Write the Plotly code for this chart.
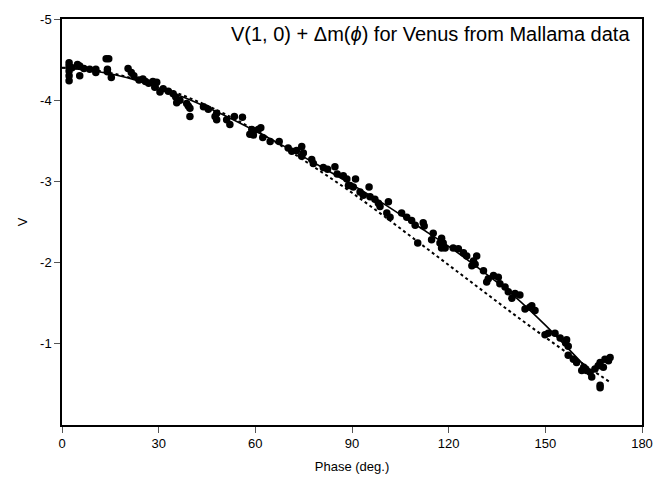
import plotly.graph_objects as go

# observed data (phase in degrees, V magnitude)
obs_phase = [2.2, 2.2, 2.2, 2.2, 2.2, 3.1, 4.8, 5.5, 5.5, 6.8, 8.6, 10.5, 10.5, 13.7, 14.5, 14.1, 14.1, 15.3,
             20.5, 21.5, 22.3, 23.9, 25.1, 25.9, 26.9, 28.2, 28.8,
             29.4, 30.4, 31.4, 33.0, 34.5, 35.3, 35.6, 36.6, 38.7, 39.2, 39.7, 39.7, 43.9, 45.4, 47.5, 48.0, 48.0,
             51.1, 52.1, 53.5, 56.0, 58.3, 59.4,
             58.9, 59.4, 60.9, 61.7, 62.3, 64.6, 67.4, 70.2, 71.3, 72.8, 74.4, 74.4, 74.9, 77.5, 78.0, 81.1, 82.4,
             84.7, 85.4, 87.3, 88.4, 88.9,
             89.4, 91.1, 90.4, 92.5, 93.5, 95.3, 95.6, 97.1, 98.2, 98.7, 100.8, 101.3, 101.8, 105.4, 107.0, 108.5,
             109.6, 112.1, 112.4, 110.4, 115.2, 114.7, 117.3, 117.8,
             117.8, 118.3, 118.9, 121.4, 123.0, 124.6, 125.6, 127.7, 128.7, 128.2, 127.2, 130.8, 132.3, 131.8,
             133.9, 135.4, 135.9, 137.5, 138.5, 139.6, 140.6, 142.1, 143.7, 145.2, 146.8,
             145.8, 149.9, 150.9, 153.0, 154.6, 156.6, 157.1, 156.3, 157.1, 158.7, 159.7, 161.3, 162.8, 163.9,
             164.4, 165.4, 166.4, 167.0, 167.0, 167.0, 168.5, 169.6, 170.1, 168.0, 161.9]
obs_v = [-4.46, -4.42, -4.36, -4.30, -4.24, -4.40, -4.44, -4.42, -4.30, -4.39, -4.38, -4.38, -4.34, -4.51, -4.51, -4.38, -4.35, -4.28,
         -4.39, -4.34, -4.30, -4.25, -4.26, -4.23, -4.21, -4.23, -4.16,
         -4.22, -4.10, -4.14, -4.11, -4.08, -4.04, -3.97, -4.00, -3.96, -3.93, -3.90, -3.80, -3.92, -3.89, -3.80, -3.76, -3.84,
         -3.76, -3.70, -3.80, -3.79, -3.58, -3.62,
         -3.64, -3.57, -3.64, -3.66, -3.54, -3.49, -3.49, -3.41, -3.37, -3.38, -3.43, -3.31, -3.35, -3.27, -3.22, -3.17, -3.15,
         -3.18, -3.09, -3.07, -3.03, -2.95,
         -2.95, -3.03, -2.93, -2.87, -2.83, -2.93, -2.81, -2.78, -2.73, -2.69, -2.61, -2.75, -2.56, -2.61, -2.56, -2.52,
         -2.46, -2.49, -2.45, -2.24, -2.36, -2.28, -2.24, -2.18,
         -2.30, -2.24, -2.18, -2.18, -2.17, -2.12, -2.08, -2.02, -2.08, -1.98, -1.96, -1.90, -1.80, -1.76,
         -1.84, -1.82, -1.74, -1.70, -1.64, -1.56, -1.62, -1.60, -1.43, -1.45, -1.41,
         -1.47, -1.11, -1.13, -1.13, -1.07, -1.05, -0.97, -1.01, -0.86, -0.81, -0.77, -0.67, -0.67, -0.65,
         -0.59, -0.69, -0.73, -0.77, -0.46, -0.49, -0.81, -0.79, -0.83, -0.71, -0.71]

# fitted curve (solid)
fit_phase = [0, 10, 20, 30, 40, 50, 60, 70, 80, 90, 100, 110, 120, 130, 140, 150, 160, 163]
fit_v = [-4.40, -4.36, -4.28, -4.15, -4.00, -3.82, -3.62, -3.41, -3.19, -2.96, -2.72, -2.46, -2.20, -1.91, -1.60, -1.23, -0.82, -0.69]

# older curve (dotted)
old_phase = [0, 10, 20, 30, 40, 50, 60, 70, 80, 90, 100, 110, 120, 130, 140, 150, 160, 170]
old_v = [-4.40, -4.37, -4.29, -4.17, -4.02, -3.84, -3.63, -3.39, -3.13, -2.86, -2.57, -2.27, -1.97, -1.67, -1.37, -1.08, -0.80, -0.53]

x_ticks = [0, 30, 60, 90, 120, 150, 180]
y_ticks = [-5, -4, -3, -2, -1]
y_tick_text = ["-5", "-4", "-3", "-2", "-1"]

fig = go.Figure()
fig.add_trace(go.Scatter(x=old_phase, y=old_v, mode="lines",
                         line=dict(color="black", width=2, dash="dot", shape="spline"),
                         showlegend=False, hoverinfo="skip"))
fig.add_trace(go.Scatter(x=fit_phase, y=fit_v, mode="lines",
                         line=dict(color="black", width=1.6, shape="spline"),
                         showlegend=False, hoverinfo="skip"))
fig.add_trace(go.Scatter(x=obs_phase, y=obs_v, mode="markers",
                         marker=dict(color="black", size=7.5, line=dict(width=0)),
                         showlegend=False))

font_family = "Liberation Sans, Arial, Helvetica, sans-serif"
# the page body adds an 8px offset; the figure size is reduced to compensate
fig.update_layout(
    width=659, height=475,
    margin=dict(l=54, r=25, t=4, b=58),
    paper_bgcolor="white", plot_bgcolor="white",
    font=dict(family=font_family, color="black", size=13),
    xaxis=dict(range=[0, 180], tickvals=x_ticks, ticks="outside", ticklen=6, tickwidth=1,
               tickcolor="#555", showline=True, linecolor="black", linewidth=1.5, mirror=True,
               showgrid=False, zeroline=False, ticklabeloverflow="allow",
               title=dict(text="Phase (deg.)", font=dict(size=13), standoff=12),
               tickfont=dict(size=13)),
    yaxis=dict(range=[0, -5], tickvals=y_ticks, ticktext=y_tick_text, ticks="outside", ticklen=6,
               tickwidth=1, tickcolor="#555", showline=True, linecolor="black", linewidth=1.5,
               mirror=True, showgrid=False, zeroline=False, ticklabeloverflow="allow",
               title=dict(text="V", font=dict(size=13), standoff=10),
               tickfont=dict(size=13)),
    annotations=[dict(text="V(1, 0) + \u0394m(<i>\u03d5</i>) for Venus from Mallama data",
                      xref="paper", yref="paper", x=1, y=1, xanchor="right", yanchor="top",
                      xshift=-10, yshift=-2,
                      showarrow=False, font=dict(size=20, family=font_family))],
)

fig.write_html("out.html")
